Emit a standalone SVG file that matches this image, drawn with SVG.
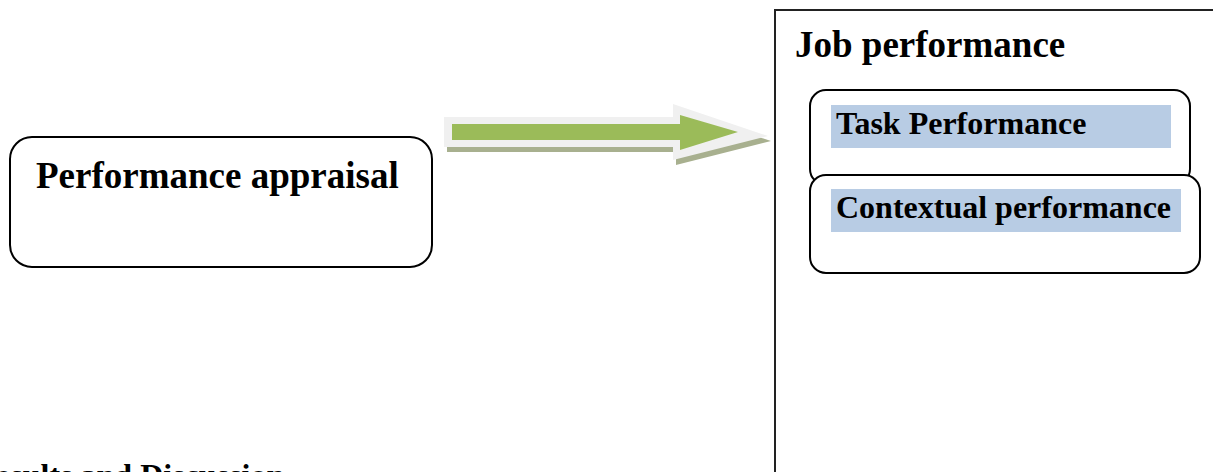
<svg xmlns="http://www.w3.org/2000/svg" width="1213" height="472" viewBox="0 0 1213 472">
<style>
.t{font-family:"Liberation Serif","Times New Roman",serif;font-weight:bold;fill:#000}
.box{fill:#fff;stroke:#000;stroke-width:2}
.hl{fill:#b8cce4}
</style>
<rect width="1213" height="472" fill="#fff"/>
<g id="connectors">
<polygon points="447,122 676,122 676,109 771,141 676,165 676,152 447,152" fill="#a8b08f"/>
<polygon points="444,117 673,117 673,104 768,136 673,160 673,147 444,147" fill="#f0f0f0"/>
<polygon points="452,124 680,124 680,115 738,132 680,150 680,140 452,140" fill="#9bbb59"/>
</g>
<g id="performance-appraisal">
<rect class="box" x="10" y="137" width="422" height="130" rx="22"/>
<text class="t" x="36" y="188" font-size="37">Performance appraisal</text>
</g>
<g id="job-performance">
<rect x="775" y="10" width="460" height="480" fill="#fff" stroke="#222" stroke-width="2"/>
<text class="t" x="795" y="57" font-size="37">Job performance</text>
</g>
<g id="task-performance">
<rect class="box" x="810" y="90" width="380" height="95" rx="16"/>
<rect class="hl" x="831" y="105" width="340" height="43"/>
<text class="t" x="836" y="134" font-size="32">Task Performance</text>
</g>
<g id="contextual-performance">
<rect class="box" x="810" y="175" width="390" height="98" rx="16"/>
<rect class="hl" x="831" y="189" width="350" height="43"/>
<text class="t" x="836" y="218" font-size="32">Contextual performance</text>
</g>
<text class="t" x="-27" y="486" font-size="32">Results and Discussion</text>
</svg>
